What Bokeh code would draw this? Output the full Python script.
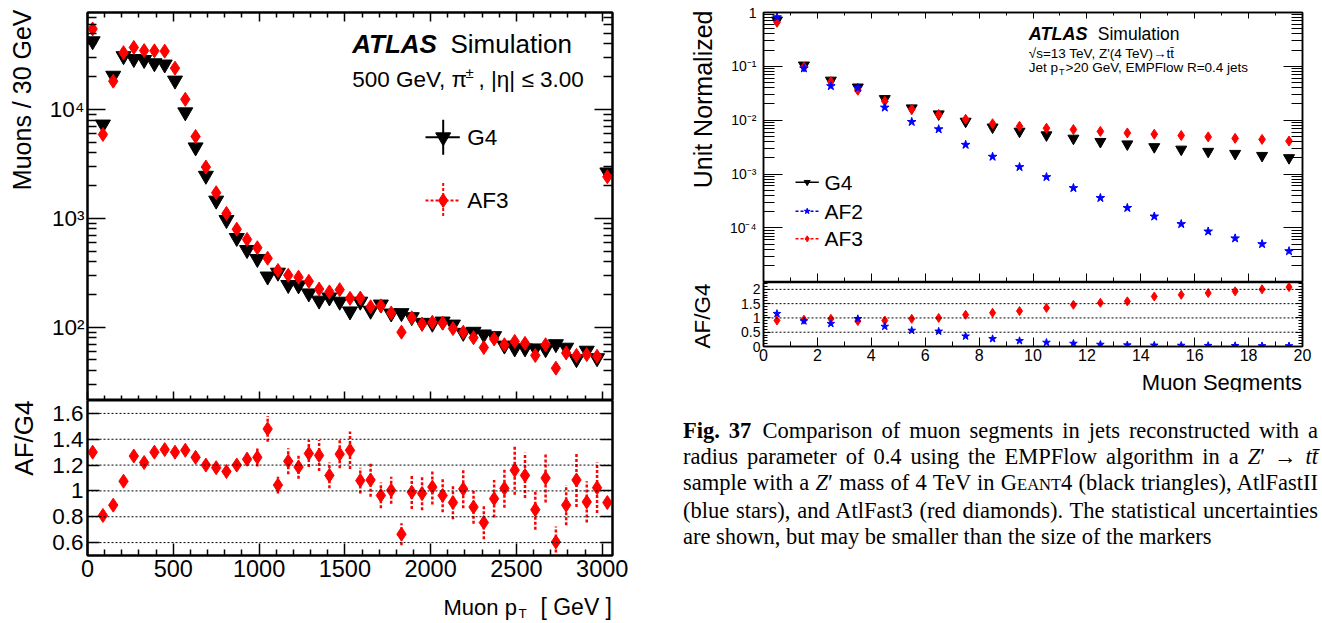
import math
from bokeh.plotting import figure
from bokeh.models import (Range1d, LinearAxis, LogAxis, FixedTicker, Label, Div, Span,
                          CustomJSTickFormatter, ColumnDataSource)
from bokeh.layouts import row, column
from bokeh.embed import file_html
from bokeh.resources import INLINE

FONT = "Liberation Sans"

# ---------------- data: left chart (muon pT, 500 GeV pions) ----------------
pt_centers = [30, 90, 150, 210, 270, 330, 390, 450, 510, 570, 630, 690, 750, 810, 870,
              930, 990, 1050, 1110, 1170, 1230, 1290, 1350, 1410, 1470, 1530, 1590, 1650,
              1710, 1770, 1830, 1890, 1950, 2010, 2070, 2130, 2190, 2250, 2310, 2370, 2430,
              2490, 2550, 2610, 2670, 2730, 2790, 2850, 2910, 2970, 3030]
g4_counts = [42500, 7300, 20500, 31000, 29200, 28600, 26700, 26000, 18500, 9450, 4500, 2470,
             1460, 968, 662, 513, 425, 293, 318, 245, 243, 205, 176, 188, 172, 140, 172, 142,
             162, 134, 135, 124, 110, 108, 113, 106, 89, 91, 86, 83, 68, 64, 64, 64, 63, 70,
             65, 51, 61, 52, 2650]
af3_counts = [55000, 5900, 18200, 33300, 37200, 34800, 34600, 34400, 24000, 12400, 5650, 2960,
              1720, 1110, 795, 640, 537, 430, 332, 300, 288, 264, 224, 211, 221, 184, 185, 154,
              157, 135, 90, 122, 107, 111, 109, 97, 90, 80, 65, 78, 69, 74, 71, 55, 69, 42,
              58, 55, 56, 54, 2410]
ratio_af3_g4 = [1.30, 0.81, 0.89, 1.075, 1.27, 1.22, 1.30, 1.32, 1.30, 1.315, 1.26, 1.20, 1.18,
                1.15, 1.20, 1.245, 1.26, 1.48, 1.045, 1.23, 1.185, 1.29, 1.275, 1.12, 1.285,
                1.315, 1.08, 1.085, 0.965, 1.005, 0.665, 0.99, 0.98, 1.03, 0.965, 0.91, 1.015,
                0.875, 0.755, 0.94, 1.02, 1.16, 1.12, 0.855, 1.10, 0.605, 0.89, 1.085, 0.915,
                1.025, 0.91]
ratio_err = [0.01, 0.02, 0.015, 0.01, 0.01, 0.01, 0.01, 0.01, 0.015, 0.02, 0.02, 0.025, 0.03,
             0.035, 0.04, 0.05, 0.07, 0.10, 0.065, 0.10, 0.09, 0.105, 0.12, 0.10, 0.11, 0.145,
             0.10, 0.13, 0.10, 0.105, 0.085, 0.13, 0.13, 0.135, 0.13, 0.13, 0.15, 0.13, 0.13,
             0.145, 0.15, 0.19, 0.175, 0.155, 0.19, 0.12, 0.155, 0.21, 0.16, 0.195, 0.04]

# ---------------- data: right chart (muon segments) ----------------
seg_centers = [0.5, 1.5, 2.5, 3.5, 4.5, 5.5, 6.5, 7.5, 8.5, 9.5, 10.5, 11.5, 12.5, 13.5,
               14.5, 15.5, 16.5, 17.5, 18.5, 19.5]
g4_norm = [0.72, 0.105, 0.055, 0.041, 0.025, 0.0168, 0.0130, 0.0095, 0.0074, 0.0062, 0.0053,
           0.0046, 0.0040, 0.0036, 0.0032, 0.00288, 0.00262, 0.0024, 0.0022, 0.0020]
af2_norm = [0.82, 0.092, 0.043, 0.040, 0.0172, 0.0093, 0.0068, 0.0035, 0.0021, 0.00135,
            0.00088, 0.00055, 0.00036, 0.000235, 0.000163, 0.000118, 8.6e-5, 6.4e-5, 5.0e-5,
            3.7e-5]
af3_norm = [0.66, 0.097, 0.052, 0.036, 0.0225, 0.0160, 0.0128, 0.0104, 0.0086, 0.0077, 0.0071,
            0.0067, 0.0062, 0.0058, 0.0055, 0.0052, 0.0049, 0.0046, 0.0044, 0.0041]
ratio_af2 = [1.15, 0.89, 0.80, 0.97, 0.70, 0.56, 0.53, 0.36, 0.27, 0.20, 0.14, 0.105, 0.07,
             0.05, 0.04, 0.035, 0.03, 0.025, 0.02, 0.018]
ratio_af3 = [0.91, 0.94, 0.97, 0.89, 0.91, 0.97, 1.0, 1.11, 1.18, 1.24, 1.35, 1.46, 1.53, 1.58,
             1.75, 1.81, 1.87, 1.93, 2.0, 2.08]

# ---------------- helpers ----------------
LOG_FMT = """
const e = Math.round(Math.log10(tick));
const s = {"-5":"\u207b\u2075","-4":"\u207b\u2074","-3":"\u207b\u00b3","-2":"\u207b\u00b2","-1":"\u207b\u00b9","1":"\u00b9","2":"\u00b2","3":"\u00b3","4":"\u2074","5":"\u2075"};
if (e == 0) return "1";
return "10" + s[String(e)];
"""
LIN_FMT = "return String(Math.round(tick*100)/100);"
NO_FMT = "return '';"


def make_fig(width, height, borders, xr, yr, ylog=False, lw=2.0, outline=True):
    l, r, t, b = borders
    p = figure(width=width, height=height, x_range=xr, y_range=yr,
               y_axis_type="log" if ylog else "linear",
               x_axis_location=None, y_axis_location=None,
               min_border_left=l, min_border_right=r, min_border_top=t, min_border_bottom=b,
               output_backend="svg", toolbar_location=None)
    p.xgrid.visible = False
    p.ygrid.visible = False
    p.outline_line_color = "black" if outline else None
    p.outline_line_width = lw
    p.background_fill_color = "white"
    p.border_fill_color = "white"
    return p


def text_fig(width, height):
    # plain text panel (titles that sit outside the plot frames)
    return make_fig(width, height, (0, 0, 0, 0), Range1d(0, 1), Range1d(0, 1), outline=False)


def add_axis(p, log, side, ticks, minor, tin, mtin, lw, fmt=None, fs=None, standoff=0):
    cls = LogAxis if log else LinearAxis
    ax = cls(ticker=FixedTicker(ticks=ticks, minor_ticks=minor))
    ax.axis_line_color = "black"
    ax.axis_line_width = lw
    ax.major_tick_line_color = "black"
    ax.minor_tick_line_color = "black"
    ax.major_tick_line_width = max(1, lw - 0.5)
    ax.minor_tick_line_width = max(1, lw - 0.5)
    ax.major_tick_in = int(round(tin))
    ax.major_tick_out = 0
    ax.minor_tick_in = int(round(mtin))
    ax.minor_tick_out = 0
    if fmt is None:
        ax.formatter = CustomJSTickFormatter(code=NO_FMT)
        ax.major_label_text_font_size = "1px"
        ax.major_label_text_alpha = 0
        ax.major_label_standoff = 0
    else:
        ax.formatter = CustomJSTickFormatter(code=fmt)
        ax.major_label_text_font = FONT
        ax.major_label_text_font_size = f"{fs}px"
        ax.major_label_text_color = "black"
        ax.major_label_standoff = int(standoff)
    p.add_layout(ax, side)
    return ax


def txt(p, fr, s, px, py, size, align="left", angle=0.0, style="normal", baseline="middle"):
    # px, py: page pixel position; fr: (left, top, width, height) of p's frame on the page
    l, t, w, h = fr
    p.add_layout(Label(x=px - l, y=(t + h) - py, x_units="screen", y_units="screen", text=s,
                       text_font=FONT, text_font_size=f"{size}px", text_font_style=style,
                       text_align=align, text_baseline=baseline, angle=angle,
                       text_color="black"))


def px_to_x(px, fr, x0, x1):
    return x0 + (px - fr[0]) / fr[2] * (x1 - x0)


def py_to_ylog(py, fr, l0, l1):
    return 10 ** (l1 - (py - fr[1]) / fr[3] * (l1 - l0))


# ======================= left chart =======================
LX0, LX1 = 0, 3060
LL0, LL1 = 1.3263, 4.8915
FLM = (87, 12, 525, 388)
FLR = (87, 400, 525, 155)

lm = make_fig(598, 400, (45, 28, 12, 0), Range1d(LX0, LX1), Range1d(10 ** LL0, 10 ** LL1),
              ylog=True)
x_major = [0, 500, 1000, 1500, 2000, 2500, 3000]
x_minor = [v for v in range(100, 3060, 100) if v % 500 != 0]
ly_major = [100, 1000, 10000]
ly_minor = [m * d for d in (10, 100, 1000, 10000) for m in range(2, 10) if 21 < m * d < 78000]
add_axis(lm, True, "left", ly_major, ly_minor, 18, 9, 2, LOG_FMT, 22.5, 3)
add_axis(lm, True, "right", ly_major, ly_minor, 18, 9, 2)
add_axis(lm, False, "above", x_major, x_minor, 9, 5, 2)
add_axis(lm, False, "below", x_major, x_minor, 9, 5, 2)

src_l = ColumnDataSource(dict(x=pt_centers, g4=g4_counts, af3=af3_counts))
lm.scatter("x", "g4", source=src_l, marker="inverted_triangle", size=15, color="black")
lm.scatter("x", "af3", source=src_l, marker="diamond", size=14, color="red")

txt(lm, FLM, "ATLAS", 351.7, 43.3, 26, style="bold italic")
txt(lm, FLM, "Simulation", 450, 43.3, 26)
txt(lm, FLM, "500 GeV, \u03c0", 351.7, 79, 22.5)
txt(lm, FLM, "\u00b1", 465, 72, 15)
txt(lm, FLM, ", |\u03b7| \u2264 3.00", 583.3, 79, 22.5, align="right")

# legend (ROOT style, error-bar crosses)
for py, col, dash, mk, ms in ((136.7, "black", "solid", "inverted_triangle", 15),
                              (200, "red", "3 2", "diamond", 14)):
    xc = px_to_x(442.7, FLM, LX0, LX1)
    lm.segment(x0=[px_to_x(425, FLM, LX0, LX1)], y0=[py_to_ylog(py, FLM, LL0, LL1)],
               x1=[px_to_x(459.3, FLM, LX0, LX1)], y1=[py_to_ylog(py, FLM, LL0, LL1)],
               line_color=col, line_width=2, line_dash=dash)
    lm.segment(x0=[xc], y0=[py_to_ylog(py - 17.5, FLM, LL0, LL1)],
               x1=[xc], y1=[py_to_ylog(py + 17.5, FLM, LL0, LL1)],
               line_color=col, line_width=2, line_dash=dash)
    lm.scatter(x=[xc], y=[py_to_ylog(py, FLM, LL0, LL1)], marker=mk, size=ms, color=col)
txt(lm, FLM, "G4", 466.7, 137, 22.5)
txt(lm, FLM, "AF3", 466.7, 200, 22.5)

lr = make_fig(598, 187, (45, 28, 0, 32), Range1d(LX0, LX1), Range1d(0.5, 1.7))
r_major = [0.6, 0.8, 1.0, 1.2, 1.4, 1.6]
add_axis(lr, False, "left", r_major, [], 12, 6, 2, LIN_FMT, 22.5, 4)
add_axis(lr, False, "right", r_major, [], 12, 6, 2)
add_axis(lr, False, "below", x_major, x_minor, 12, 6, 2, LIN_FMT, 23.5, 4)
for v in r_major:
    lr.add_layout(Span(location=v, dimension="width", line_color="black", line_width=1,
                       line_dash="2 2"))
lo = [r - e for r, e in zip(ratio_af3_g4, ratio_err)]
hi = [r + e for r, e in zip(ratio_af3_g4, ratio_err)]
src_r = ColumnDataSource(dict(x=pt_centers, r=ratio_af3_g4, lo=lo, hi=hi))
lr.segment(x0="x", y0="lo", x1="x", y1="hi", source=src_r, line_color="red", line_width=2.5,
           line_dash="3 2")
lr.scatter("x", "r", source=src_r, marker="diamond", size=14, color="red")

# title panels of the left chart
FYL = (0, 0, 42, 620)
yl = text_fig(42, 620)
txt(yl, FYL, "Muons / 30 GeV", 21, 9, 25, align="right", angle=math.pi / 2)
txt(yl, FYL, "AF/G4", 23, 400, 26, align="right", angle=math.pi / 2)

# (its frame is aligned with the plot frames above it in the column)
FXL = (87, 587, 525, 33)
xl = text_fig(598, 33)
txt(xl, FXL, "Muon p", 443, 606.5, 22, baseline="alphabetic")
txt(xl, FXL, "T", 518, 612.5, 13.5, baseline="alphabetic")
txt(xl, FXL, "[ GeV ]", 611.5, 606.5, 23, align="right", baseline="alphabetic")

# ======================= right chart =======================
RX0, RX1 = 0, 20
RL0, RL1 = -5.014, 0.0
FRM = (763, 12, 539, 270)
FRR = (763, 282, 539, 64)

rm = make_fig(592, 282, (41, 12, 12, 0), Range1d(RX0, RX1), Range1d(10 ** RL0, 10 ** RL1),
              ylog=True, lw=1.5)
ry_major = [1e-4, 1e-3, 1e-2, 1e-1, 1.0]
ry_minor = [m * 10.0 ** d for d in range(-5, 0) for m in range(2, 10)]
sx_major = list(range(0, 21, 2))
sx_minor = list(range(1, 20, 2))
add_axis(rm, True, "left", ry_major, ry_minor, 19, 11, 1.5, LOG_FMT, 14, 7)
add_axis(rm, True, "right", ry_major, ry_minor, 19, 11, 1.5)
add_axis(rm, False, "above", sx_major, sx_minor, 6, 3, 1.5)
add_axis(rm, False, "below", sx_major, sx_minor, 9, 5, 1.5)

src_s = ColumnDataSource(dict(x=seg_centers, g4=g4_norm, af2=af2_norm, af3=af3_norm))
rm.scatter("x", "g4", source=src_s, marker="inverted_triangle", size=11, color="black")
rm.scatter("x", "af3", source=src_s, marker="diamond", size=10, color="red")
rm.scatter("x", "af2", source=src_s, marker="star", size=9, color="blue")

txt(rm, FRM, "ATLAS", 1028.3, 33.3, 18, style="bold italic")
txt(rm, FRM, "Simulation", 1097.3, 33.3, 17.5)
txt(rm, FRM, "\u221as=13 TeV, Z'(4 TeV)\u2192tt\u0304", 1028.3, 52.7, 13.5)
txt(rm, FRM, "Jet p", 1028.3, 66.7, 13.5)
txt(rm, FRM, "T", 1058.5, 71.5, 9)
txt(rm, FRM, ">20 GeV, EMPFlow R=0.4 jets", 1065, 66.7, 13.5)

for py, col, dash, mk, name in ((181.7, "black", "solid", "inverted_triangle", "G4"),
                                (210.7, "blue", "3 2", "star", "AF2"),
                                (238.3, "red", "3 2", "diamond", "AF3")):
    yv = py_to_ylog(py, FRM, RL0, RL1)
    rm.segment(x0=[px_to_x(795, FRM, RX0, RX1)], y0=[yv], x1=[px_to_x(818.3, FRM, RX0, RX1)],
               y1=[yv], line_color=col, line_width=1.5, line_dash=dash)
    rm.scatter(x=[px_to_x(806.7, FRM, RX0, RX1)], y=[yv], marker=mk, size=6, color=col)
    txt(rm, FRM, name, 824, py, 21)

rr = make_fig(592, 84, (41, 12, 0, 20), Range1d(RX0, RX1), Range1d(0, 2.24), lw=1.5)
rr_major = [0, 0.5, 1.0, 1.5, 2.0]
rr_minor = [i / 10 for i in range(1, 23) if i % 5 != 0]
add_axis(rr, False, "left", rr_major, rr_minor, 7, 4, 1.5, LIN_FMT, 14, 3)
add_axis(rr, False, "right", rr_major, rr_minor, 7, 4, 1.5)
add_axis(rr, False, "below", sx_major, sx_minor, 9, 5, 1.5, LIN_FMT, 16, 2)
for v in rr_major[1:]:
    rr.add_layout(Span(location=v, dimension="width", line_color="black", line_width=1,
                       line_dash="2 2"))
src_sr = ColumnDataSource(dict(x=seg_centers, r2=ratio_af2, r3=ratio_af3))
rr.scatter("x", "r3", source=src_sr, marker="diamond", size=9, color="red")
rr.scatter("x", "r2", source=src_sr, marker="star", size=8, color="blue")

FYR = (640, 0, 82, 392)
yr_t = text_fig(82, 392)
txt(yr_t, FYR, "Unit Normalized", 702, 10, 25, align="right", angle=math.pi / 2)
txt(yr_t, FYR, "AF/G4", 702, 283, 22.5, align="right", angle=math.pi / 2)

FXR = (763, 366, 539, 26)
xr_t = text_fig(592, 26)
txt(xr_t, FXR, "Muon Segments", 1301.5, 381.7, 22, align="right", baseline="alphabetic")

J = "text-align:justify;text-align-last:justify;white-space:nowrap;"
cap_html = (
    "<div style=\"font-family:'Liberation Serif',serif;font-size:22.5px;line-height:26px;"
    "color:#000;box-sizing:border-box;width:673px;padding-left:38px;padding-top:21px;\">"
    f"<div style='{J}'><b>Fig. 37</b>&ensp;Comparison of muon segments in jets reconstructed with a</div>"
    f"<div style='{J}'>radius parameter of 0.4 using the EMPFlow algorithm in a <i>Z</i>\u2032 \u2192 <i>t</i><i>t\u0304</i></div>"
    f"<div style='{J}'>sample with a <i>Z</i>\u2032 mass of 4 TeV in G<span style='font-size:16.5px'>EANT</span>4 (black triangles), AtlFastII</div>"
    f"<div style='{J}'>(blue stars), and AtlFast3 (red diamonds). The statistical uncertainties</div>"
    "<div style='white-space:nowrap;'>are shown, but may be smaller than the size of the markers</div>"
    "</div>"
)
caption = Div(text=cap_html, width=674, height=223)

left_block = row(yl, column(lm, lr, xl, spacing=0), spacing=0)
right_block = column(row(yr_t, column(rm, rr, xr_t, spacing=0), spacing=0), caption, spacing=0)
layout = row(left_block, right_block, spacing=0)

open("out.html", "w").write(file_html(layout, INLINE))
